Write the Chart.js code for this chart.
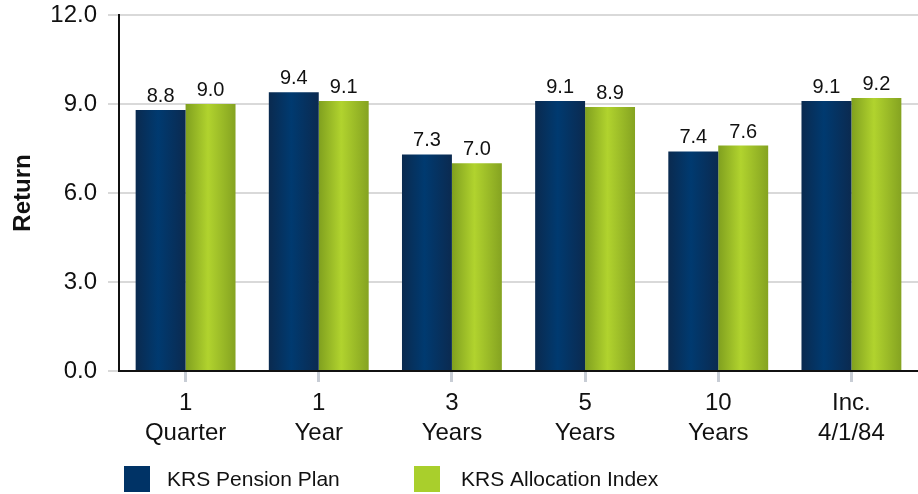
<!DOCTYPE html>
<html>
<head>
<meta charset="utf-8">
<script src="https://cdn.jsdelivr.net/npm/chart.js@4/dist/chart.umd.min.js"></script>
<style>
  html, body { margin: 0; padding: 0; background: #fff; }
  #wrap { width: 918px; height: 494px; position: relative; }
</style>
</head>
<body>
<div id="wrap"><canvas id="returnsChart"></canvas></div>
<script>
const categories = [["1", "Quarter"], ["1", "Year"], ["3", "Years"], ["5", "Years"], ["10", "Years"], ["Inc.", "4/1/84"]];
const pensionPlan = [8.8, 9.4, 7.3, 9.1, 7.4, 9.1];
const allocationIndex = [9.0, 9.1, 7.0, 8.9, 7.6, 9.2];
const yTicks = [0, 3, 6, 9, 12];

const FONT = "'Liberation Sans', Arial, sans-serif";
const NARROW = "'Liberation Sans Narrow', 'Arial Narrow', 'Liberation Sans', Arial, sans-serif";

// bar fills: dark edges, lighter middle (cylinder look)
const fills = [
  { solid: '#003366', stops: ['#0a2a4f', '#003a70', '#0b2a50'] },
  { solid: '#a9cf2c', stops: ['#80a01f', '#b1d32e', '#85a321'] }
];

const barShade = {
  id: 'barShade',
  beforeDatasetsDraw(chart) {
    const ctx = chart.ctx;
    chart.data.datasets.forEach((ds, i) => {
      const meta = chart.getDatasetMeta(i);
      const f = fills[i];
      meta.data.forEach(el => {
        const x0 = el.x - el.width / 2, x1 = el.x + el.width / 2;
        const g = ctx.createLinearGradient(x0, 0, x1, 0);
        g.addColorStop(0, f.stops[0]);
        g.addColorStop(0.45, f.stops[1]);
        g.addColorStop(1, f.stops[2]);
        el.options = Object.assign({}, el.options, { backgroundColor: g });
      });
    });
  }
};

const valueLabels = {
  id: 'valueLabels',
  afterDatasetsDraw(chart) {
    const ctx = chart.ctx;
    ctx.save();
    ctx.font = '20px ' + NARROW;
    ctx.fillStyle = '#111';
    ctx.textAlign = 'center';
    ctx.textBaseline = 'alphabetic';
    chart.data.datasets.forEach((ds, i) => {
      chart.getDatasetMeta(i).data.forEach((el, j) => {
        ctx.fillText(ds.data[j].toFixed(1), el.x, el.y - 8);
      });
    });
    ctx.restore();
  }
};

// legend at the bottom left
const bottomLegend = {
  id: 'bottomLegend',
  afterDraw(chart) {
    const ctx = chart.ctx;
    const boxX = [124, 414];
    const textX = [167, 461];
    const y = 466;
    ctx.save();
    ctx.font = '21px ' + FONT;
    ctx.textBaseline = 'middle';
    chart.data.datasets.forEach((ds, i) => {
      ctx.fillStyle = fills[i].solid;
      ctx.fillRect(boxX[i], y, 26, 26);
      ctx.fillStyle = '#111';
      ctx.fillText(ds.label, textX[i], y + 14);
    });
    ctx.restore();
  }
};

new Chart(document.getElementById('returnsChart'), {
  type: 'bar',
  data: {
    labels: categories,
    datasets: [
      { label: 'KRS Pension Plan', data: pensionPlan, backgroundColor: fills[0].solid },
      { label: 'KRS Allocation Index', data: allocationIndex, backgroundColor: fills[1].solid }
    ]
  },
  options: {
    responsive: true,
    maintainAspectRatio: false,
    animation: false,
    layout: { padding: { top: 15, right: 0, bottom: 0, left: 0 } },
    datasets: { bar: { categoryPercentage: 0.75, barPercentage: 1 } },
    plugins: {
      legend: { display: false },
      tooltip: { enabled: false }
    },
    scales: {
      x: {
        grid: { offset: false, drawOnChartArea: false, drawTicks: true, tickLength: 11, tickColor: '#c8cdd5', tickWidth: 3 },
        border: { display: true, color: '#111', width: 2 },
        ticks: { color: '#111', font: { family: FONT, size: 24, lineHeight: 1.25 }, padding: 6, maxRotation: 0 },
        afterFit(scale) { scale.height = 123; scale.paddingLeft = 0; scale.paddingRight = 0; }
      },
      y: {
        min: 0,
        max: 12,
        afterBuildTicks(scale) { scale.ticks = yTicks.map(v => ({ value: v })); },
        grid: { color: '#d9d9d9', lineWidth: 2, tickLength: 11 },
        border: { display: true, color: '#111', width: 2 },
        ticks: { color: '#111', font: { family: FONT, size: 24 }, padding: 11, callback: v => v.toFixed(1) },
        title: { display: true, text: 'Return', color: '#111', font: { family: FONT, size: 24, weight: 'bold' }, padding: { top: 9, bottom: 0 } },
        afterFit(scale) { scale.width = 119; scale.paddingTop = 0; scale.paddingBottom = 0; }
      }
    }
  },
  plugins: [barShade, valueLabels, bottomLegend]
});
</script>
</body>
</html>
